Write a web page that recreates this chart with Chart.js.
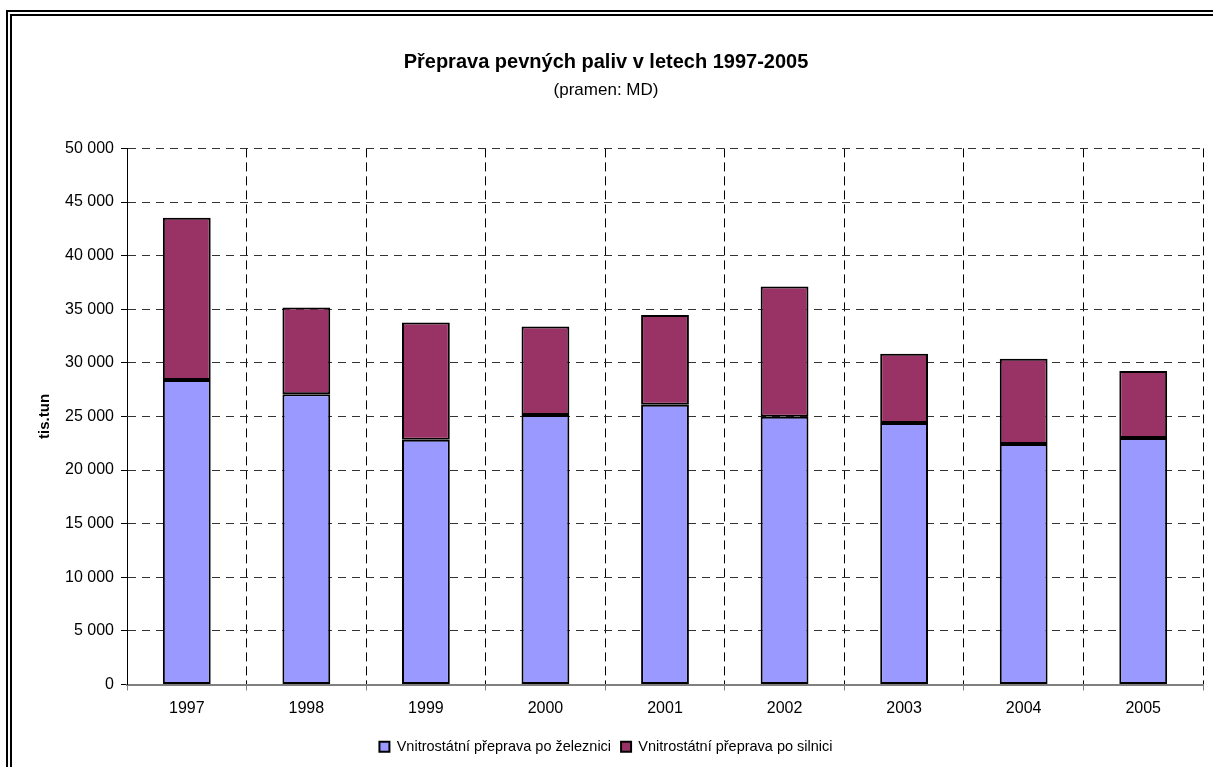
<!DOCTYPE html>
<html>
<head>
<meta charset="utf-8">
<script src="https://cdn.jsdelivr.net/npm/chart.js@4.4.0/dist/chart.umd.min.js"></script>
<style>
    html, body { margin: 0; padding: 0; background: #fff; }
    #wrap { width: 1213px; height: 767px; }
</style>
</head>
<body>
<div id="wrap"><canvas id="my-bar-chart" width="1213" height="767"></canvas></div>
<script>
// data (tis. tun)
const years = ['1997', '1998', '1999', '2000', '2001', '2002', '2003', '2004', '2005'];
const railValues = [28400, 27070, 22830, 25130, 26100, 24980, 24390, 22420, 22980];
const roadValues = [15140, 8100, 10940, 8270, 8360, 12130, 6450, 7950, 6270];
const yMin = 0;
const yMax = 50000;
const yStep = 5000;

const railLabel = 'Vnitrostátní přeprava po železnici';
const roadLabel = 'Vnitrostátní přeprava po silnici';

Chart.defaults.font.family = '"Liberation Sans", Arial, sans-serif';
Chart.defaults.color = '#000';

// 50000 -> "50 000"
function spaced(v) {
    return String(v).replace(/\B(?=(\d{3})+(?!\d))/g, ' ');
}

// double frame round the chart (runs off right and bottom edge)
const framePlugin = {
    id: 'frame',
    beforeDraw(chart) {
        const ctx = chart.ctx;
        ctx.save();
        ctx.fillStyle = '#fff';
        ctx.fillRect(0, 0, chart.width, chart.height);
        ctx.strokeStyle = '#000';
        ctx.lineWidth = 2;
        ctx.strokeRect(7, 11, 1300, 900);
        ctx.strokeRect(11, 15, 1300, 900);
        ctx.restore();
    }
};

const config = {
    type: 'bar',
    data: {
        labels: years,
        datasets: [
            {
                label: railLabel,
                data: railValues,
                backgroundColor: '#9999FF',
                borderColor: '#000',
                borderWidth: 2,
                borderSkipped: false
            },
            {
                label: roadLabel,
                data: roadValues,
                backgroundColor: '#993366',
                borderColor: '#000',
                borderWidth: 2,
                borderSkipped: false
            }
        ]
    },
    options: {
        responsive: false,
        animation: false,
        categoryPercentage: 1,
        barPercentage: 0.4,
        layout: {
            padding: { left: 9, right: 10, top: 0, bottom: 3 }
        },
        plugins: {
            title: {
                display: true,
                text: 'Přeprava pevných paliv v letech 1997-2005',
                font: { size: 20, weight: 'bold' },
                padding: { top: 50, bottom: 6 }
            },
            subtitle: {
                display: true,
                text: '(pramen: MD)',
                color: '#000',
                font: { size: 17 },
                padding: { top: 0, bottom: 48 }
            },
            legend: {
                position: 'bottom',
                labels: {
                    boxWidth: 10,
                    boxHeight: 10,
                    padding: 10,
                    font: { size: 14.5 }
                }
            },
            tooltip: { enabled: false }
        },
        scales: {
            x: {
                stacked: true,
                afterFit(scale) { scale.height = 45; },
                grid: {
                    offset: true,
                    color: ctx => ctx.index === 0 ? 'rgba(0,0,0,0)' : '#000',
                    tickColor: '#808080',
                    tickLength: 6
                },
                border: { color: '#808080', width: 2, dash: [9, 5] },
                ticks: { padding: 8, font: { size: 16 } }
            },
            y: {
                stacked: true,
                min: yMin,
                max: yMax,
                afterFit(scale) { scale.width = 118; },
                grid: {
                    color: ctx => ctx.tick && ctx.tick.value === 0 ? 'rgba(0,0,0,0)' : '#333',
                    tickColor: '#000',
                    tickLength: 6
                },
                border: { color: '#000', width: 1, dash: [8, 6] },
                ticks: {
                    stepSize: yStep,
                    padding: 7,
                    font: { size: 16 },
                    callback: v => spaced(v)
                },
                title: {
                    display: true,
                    text: 'tis.tun',
                    font: { size: 15, weight: 'bold' },
                    padding: { top: 26.5, bottom: 0 }
                }
            }
        }
    },
    plugins: [framePlugin]
};

const barchart = new Chart(document.querySelector('#my-bar-chart'), config);
</script>
</body>
</html>
